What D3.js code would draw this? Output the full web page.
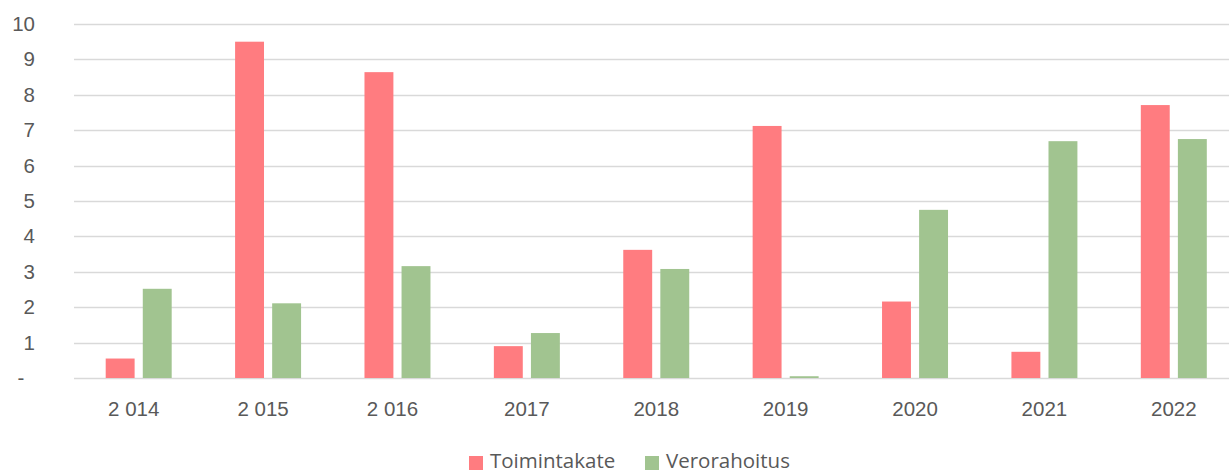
<!DOCTYPE html>
<html>
<head>
<meta charset="utf-8">
<script src="https://cdn.jsdelivr.net/npm/d3@7"></script>
<style>
  body { margin: 0; background: #fff; }
  svg { display: block; font-family: "Open Sans", "Noto Sans", sans-serif; }
  .tick text { fill: #595959; font-size: 20.5px; }
</style>
</head>
<body>
<svg id="chart" width="1229" height="470"></svg>
<script>
  const years = ['2 014', '2 015', '2 016', '2017', '2018', '2019', '2020', '2021', '2022'];
  const toimintakate = [0.55, 9.5, 8.64, 0.9, 3.62, 7.12, 2.16, 0.74, 7.71];
  const verorahoitus = [2.52, 2.11, 3.16, 1.27, 3.08, 0.05, 4.75, 6.69, 6.75];
  const seriesNames = ['Toimintakate', 'Verorahoitus'];
  const yTicks = [0, 1, 2, 3, 4, 5, 6, 7, 8, 9, 10];

  const colors = ['#ff7c80', '#a1c490'];
  const width = 1229, height = 470;
  // the plot runs a little past the right edge, as in the cropped original
  const margin = {top: 24, right: -9.5, bottom: 92, left: 74};

  const svg = d3.select('#chart');

  const x = d3.scaleBand()
    .domain(years)
    .range([margin.left, width - margin.right])
    .paddingInner(0.49)
    .paddingOuter(0.245);

  const xSeries = d3.scaleBand()
    .domain(seriesNames)
    .range([0, x.bandwidth()])
    .paddingInner(0.22);

  const y = d3.scaleLinear()
    .domain([0, 10])
    .range([height - margin.bottom, margin.top]);

  // gridlines
  svg.append('g')
    .selectAll('line')
    .data(yTicks)
    .join('line')
      .attr('x1', margin.left)
      .attr('x2', width - margin.right)
      .attr('y1', d => Math.round(y(d)) + 0.5)
      .attr('y2', d => Math.round(y(d)) + 0.5)
      .attr('stroke', '#d9d9d9')
      .attr('stroke-width', 1.5);

  // y axis labels
  const yAxis = svg.append('g')
    .attr('transform', `translate(${margin.left - 39},0)`)
    .call(d3.axisLeft(y).tickValues(yTicks).tickSize(0).tickPadding(0)
      .tickFormat(d => d === 0 ? '-' : d));
  yAxis.select('.domain').remove();
  yAxis.selectAll('.tick')
    .filter(d => d === 0)
    .select('text')
      .attr('text-anchor', 'middle')
      .attr('dx', -14);

  // x axis labels (number-formatted years sit a bit left, like the original)
  const xAxis = svg.append('g')
    .attr('transform', `translate(0,${y(0)})`)
    .call(d3.axisBottom(x).tickSize(0));
  xAxis.select('.domain').remove();
  xAxis.selectAll('.tick text')
    .attr('y', 38)
    .attr('dy', null)
    .attr('dx', d => d.includes(' ') ? -5 : 0);

  // bars
  const data = years.map((yr, i) => ({
    year: yr,
    values: [toimintakate[i], verorahoitus[i]]
  }));

  svg.append('g')
    .selectAll('g')
    .data(data)
    .join('g')
      .attr('transform', d => `translate(${x(d.year)},0)`)
    .selectAll('rect')
    .data(d => d.values.map((v, j) => ({name: seriesNames[j], value: v, j})))
    .join('rect')
      .attr('x', d => xSeries(d.name))
      .attr('width', xSeries.bandwidth())
      .attr('y', d => y(d.value))
      .attr('height', d => y(0) - y(d.value))
      .attr('fill', d => colors[d.j]);

  // legend
  const legend = svg.append('g')
    .attr('transform', 'translate(469,456)');
  const legendX = [0, 176];
  const items = legend.selectAll('g')
    .data(seriesNames)
    .join('g')
      .attr('transform', (d, i) => `translate(${legendX[i]},0)`);
  items.append('rect')
    .attr('width', 14)
    .attr('height', 14)
    .attr('fill', (d, i) => colors[i]);
  items.append('text')
    .attr('x', 21)
    .attr('y', 12)
    .attr('fill', '#595959')
    .attr('font-size', 20.5)
    .text(d => d);
</script>
</body>
</html>
